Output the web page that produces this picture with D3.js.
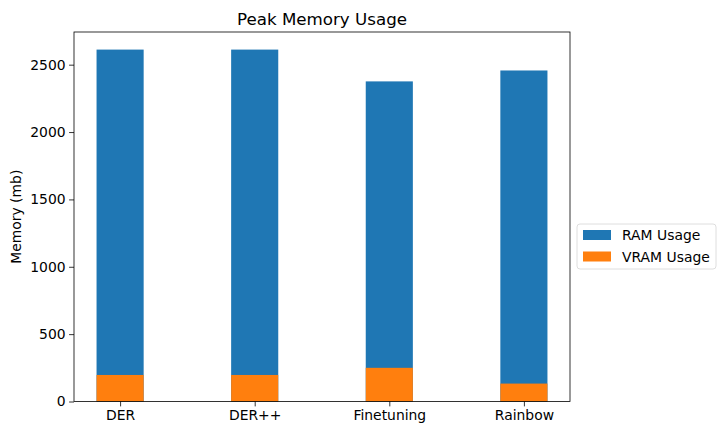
<!DOCTYPE html>
<html><head><meta charset="utf-8">
<script src="https://cdn.jsdelivr.net/npm/d3@7"></script>
<style>body{margin:0;background:#fff}svg{font-family:"DejaVu Sans",sans-serif}</style>
</head><body><svg id="c" width="725" height="435"></svg>
<script>
const categories = ["DER","DER++","Finetuning","Rainbow"];
const ramUsage = [2612, 2612, 2376, 2457];
const vramUsage = [197, 197, 250, 133];
const yTicks = [0,500,1000,1500,2000,2500];
const seriesNames = ["RAM Usage","VRAM Usage"];
const colors = ["#1f77b4","#ff7f0e"];

const svg = d3.select("#c");
const L=74, R=570, T=32, B=401.5;
const x = d3.scaleLinear().domain([-0.3425, 3.3425]).range([L,R]);
const yMax = d3.max(ramUsage)*1.05;
const y = d3.scaleLinear().domain([0,yMax]).range([B,T]);
const bw = 0.35;

const g = svg.append("g");
g.selectAll("rect.ram").data(ramUsage).join("rect")
 .attr("x",(d,i)=>x(i-bw/2)).attr("width",x(bw)-x(0))
 .attr("y",d=>y(d)).attr("height",d=>y(0)-y(d)).attr("fill",colors[0]);
g.selectAll("rect.vram").data(vramUsage).join("rect")
 .attr("x",(d,i)=>x(i-bw/2)).attr("width",x(bw)-x(0))
 .attr("y",d=>y(d)).attr("height",d=>y(0)-y(d)).attr("fill",colors[1]);

const xa = svg.append("g").attr("transform",`translate(0,${B})`)
 .call(d3.axisBottom(x).tickValues([0,1,2,3]).tickFormat(i=>categories[i]).tickSize(4.9).tickPadding(3.5));
const ya = svg.append("g").attr("transform",`translate(${L},0)`)
 .call(d3.axisLeft(y).tickValues(yTicks).tickFormat(d3.format("d")).tickSize(4.9).tickPadding(3.5));
[xa,ya].forEach(a=>{a.select(".domain").remove();a.selectAll("text").attr("font-size","13.9px").attr("fill","#000").attr("font-family","DejaVu Sans");a.selectAll("line").attr("stroke","#000").attr("stroke-width",0.8);});
xa.selectAll("text").attr("dy","0.71em");
svg.append("rect").attr("x",L).attr("y",T).attr("width",R-L).attr("height",B-T)
 .attr("fill","none").attr("stroke","#000").attr("stroke-width",0.8);

svg.append("text").attr("x",(L+R)/2).attr("y",T-7).attr("text-anchor","middle")
 .attr("font-size","16.7px").text("Peak Memory Usage");
svg.append("text").attr("transform",`translate(21,${(T+B)/2}) rotate(-90)`).attr("text-anchor","middle")
 .attr("font-size","13.9px").text("Memory (mb)");

const lg = svg.append("g").attr("transform","translate(577,224)");
lg.append("rect").attr("width",139).attr("height",45).attr("rx",3).attr("fill","#fff")
 .attr("stroke","#d6d6d6").attr("stroke-width",0.8);
seriesNames.forEach((n,i)=>{
 lg.append("rect").attr("x",6).attr("y",6+i*21.5).attr("width",28).attr("height",10).attr("fill",colors[i]);
 lg.append("text").attr("x",45).attr("y",16+i*21.5).attr("font-size","13.9px").text(n);
});
</script></body></html>
